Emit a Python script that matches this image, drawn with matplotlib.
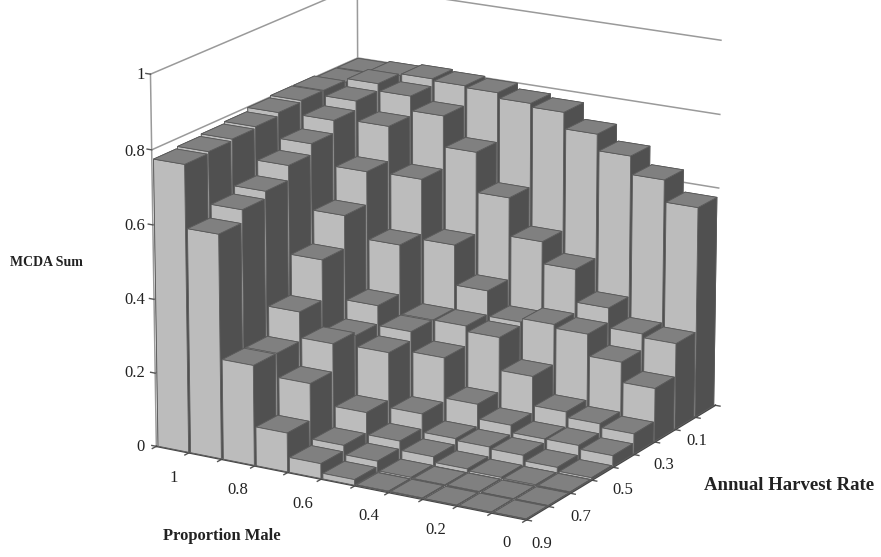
import numpy as np
import matplotlib
matplotlib.use("Agg")
import matplotlib.pyplot as plt

male = [1.0, 0.9, 0.8, 0.7, 0.6, 0.5, 0.4, 0.3, 0.2, 0.1, 0.0]
harvest = [0.9, 0.8, 0.7, 0.6, 0.5, 0.4, 0.3, 0.2, 0.1]
h09 = [.775,.605,.27,.105,.04,.015,.002,.002,.001,.001,.001]
h08 = [.78,.64,.27,.205,.055,.03,.004,.002,.002,.001,.001]
h07 = [.785,.66,.35,.28,.11,.05,.025,.01,.005,.003,.002]
h06 = [.79,.70,.46,.27,.24,.09,.04,.035,.03,.015,.005]
h05 = [.80,.73,.55,.32,.265,.21,.10,.06,.04,.04,.03]
h04 = [.805,.765,.64,.455,.265,.265,.25,.16,.08,.065,.055]
h03 = [.805,.79,.735,.605,.44,.33,.26,.27,.26,.20,.145]
h02 = [.80,.81,.79,.75,.665,.555,.45,.39,.30,.245,.235]
h01 = [.80,.805,.81,.805,.80,.785,.775,.73,.685,.635,.575]
rows = [h09, h08, h07, h06, h05, h04, h03, h02, h01]
z_ticks = [0, 0.2, 0.4, 0.6, 0.8, 1]

LIGHT, TOP, DARK, EDGE = '#bcbcbc', '#808080', '#505050', '#5a5a5a'
W, H = 881, 557
fig = plt.figure(figsize=(W/100, H/100), dpi=100)
SIDE, CX, CY = 800, 428, 254
ax = fig.add_axes([(CX - SIDE/2)/W, 1 - (CY + SIDE/2)/H, SIDE/W, SIDE/H], projection='3d')
ax.computed_zorder = False
ax.set_proj_type('persp', focal_length=1.3)
ax.view_init(elev=17.3, azim=-59.8)
nx, ny = len(male), len(harvest)
ax.set_xlim(0, nx); ax.set_ylim(0, ny); ax.set_zlim(0, 1)
ax.set_box_aspect((409, 379, 372), zoom=0.844)
ax.set_axis_off()
ax.patch.set_alpha(0)

GRID = '#9a9a9a'
zo = 1
for z in z_ticks[1:]:
    end = nx if z > 0.5 else nx - 0.1
    ax.plot([0, 0, end], [0, ny, ny], [z, z, z], color=GRID, lw=1.1, zorder=zo)
ax.plot([0, 0], [0, 0], [0, 1], color=GRID, lw=1.1, zorder=zo)
ax.plot([0, 0], [ny, ny], [0, 1], color=GRID, lw=1.1, zorder=zo)
for z in z_ticks:
    ax.plot([0, -0.14], [0, 0], [z, z], color='#555555', lw=1, zorder=zo)
for i in range(nx + 1):
    ax.plot([i, i], [0, -0.17], [0, 0], color='#555555', lw=1, zorder=zo)
for j in range(ny + 1):
    ax.plot([nx, nx + 0.14], [j, j], [0, 0], color='#555555', lw=1, zorder=zo)
ax.plot([0, nx, nx], [0, 0, ny], [0, 0, 0], color='#444444', lw=1.2, zorder=zo)

zo = 10
face_cols = [TOP, TOP, LIGHT, LIGHT, DARK, DARK]
for j in range(ny - 1, -1, -1):
    for i in range(nx):
        ax.bar3d(i + 0.03, j + 0.03, 0, 0.94, 0.94, rows[j][i], color=face_cols,
                 shade=False, edgecolor=EDGE, linewidth=0.6, zorder=zo)
        zo += 1

serif = 'Liberation Serif'
def T(x, y, s, ha='center', bold=False, size=12):
    fig.text(x / W, 1 - y / H, s, ha=ha, va='center', family=serif, fontsize=size,
             fontweight='bold' if bold else 'normal', color='#222222')

for v, y in zip(z_ticks, [447, 373, 300, 226, 152, 75]):
    T(145, y, f'{v:g}', ha='right')
for s, x, y in [('1', 174, 478), ('0.8', 238, 490), ('0.6', 303, 504),
                ('0.4', 369, 516), ('0.2', 436, 530), ('0', 506, 543)]:
    T(x, y, s)
for s, x, y in [('0.1', 697, 441), ('0.3', 664, 465), ('0.5', 623, 490),
                ('0.7', 581, 517), ('0.9', 542, 544)]:
    T(x, y, s)
T(46, 263, 'MCDA Sum', bold=True, size=10)
T(222, 536, 'Proportion Male', bold=True, size=12)
T(789, 486, 'Annual Harvest Rate', bold=True, size=13.5)

fig.savefig('out.png', dpi=100)
